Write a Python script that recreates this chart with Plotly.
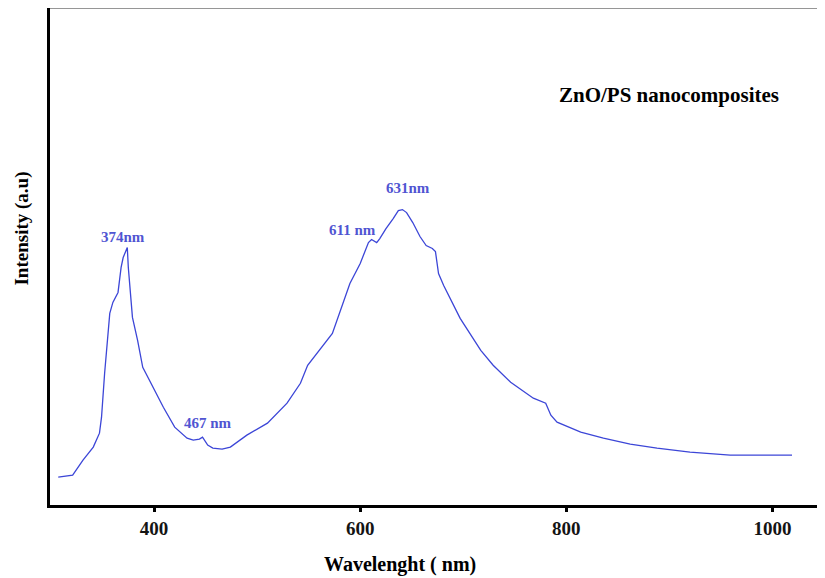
import plotly.graph_objects as go

# Photoluminescence spectrum
wavelength_nm = [307, 321, 331, 341, 347, 349, 352, 354, 357, 360, 365, 368, 370, 374,
                 375, 379, 384, 389, 399, 409, 420, 432, 438, 444, 447, 452, 457, 466,
                 474, 490, 510, 529, 542, 549, 573, 590, 600, 608, 611, 616, 619, 625,
                 632, 637, 641, 645, 651, 658, 664, 670, 673, 676, 681, 697, 717, 729,
                 746, 768, 780, 785, 791, 814, 836, 862, 888, 920, 959, 1019]
intensity_au = [28, 30, 45, 58, 72, 88, 132, 158, 192, 203, 213, 238, 248, 258,
                238, 188, 165, 138, 118, 98, 78, 67, 65, 66, 68, 60, 57, 56,
                58, 70, 82, 102, 122, 140, 172, 222, 242, 263, 266, 263, 267, 277,
                287, 295, 296, 293, 283, 269, 260, 257, 254, 232, 220, 187, 155, 140,
                123, 107, 102, 90, 83, 73, 67, 61, 57, 53, 50, 50]

peak_labels = ["374nm", "467 nm", "611 nm", "631nm"]
peak_label_x = [370, 452, 593, 646]
peak_label_y = [269, 82, 276, 318]

x_ticks = [400, 600, 800, 1000]

line_blue = "rgb(60,70,215)"
label_blue = "rgb(80,85,210)"
serif = "Liberation Serif"

fig = go.Figure()
fig.add_trace(go.Scatter(x=wavelength_nm, y=intensity_au, mode="lines",
                         line=dict(color=line_blue, width=1.3), showlegend=False,
                         hoverinfo="x+y"))

for t, x, y in zip(peak_labels, peak_label_x, peak_label_y):
    fig.add_annotation(x=x, y=y, text="<b>" + t + "</b>", showarrow=False,
                       font=dict(family=serif, size=15, color=label_blue),
                       xanchor="center", yanchor="middle")

fig.add_annotation(x=900, y=411, text="<b>ZnO/PS nanocomposites</b>", showarrow=False,
                   font=dict(family=serif, size=21, color="black"),
                   xanchor="center", yanchor="middle")

# axis titles
fig.add_annotation(xref="paper", yref="paper", x=(400 - 50) / 775, y=-60 / 498,
                   text="<b>Wavelenght ( nm)</b>", showarrow=False,
                   font=dict(family=serif, size=20, color="black"),
                   xanchor="center", yanchor="middle")
fig.add_annotation(xref="paper", yref="paper", x=-28 / 775, y=(505 - 228) / 498,
                   text="<b>Intensity (a.u)</b>", showarrow=False, textangle=-90,
                   font=dict(family=serif, size=19, color="black"),
                   xanchor="center", yanchor="middle")

# thin grey top border of the frame
fig.add_shape(type="line", xref="paper", yref="paper", x0=0, x1=1, y0=1, y1=1,
              line=dict(color="rgb(150,150,150)", width=2))

fig.update_layout(
    width=817, height=570,
    margin=dict(l=42, r=0, t=0, b=73),
    paper_bgcolor="white", plot_bgcolor="white",
    font=dict(family=serif, color="black"),
    xaxis=dict(range=[299, 1051], tickvals=x_ticks,
               ticktext=["<b>%d</b>" % v for v in x_ticks],
               showgrid=False, zeroline=False,
               showline=True, linecolor="black", linewidth=3,
               ticks="outside", ticklen=4, tickwidth=3, tickcolor="black",
               tickfont=dict(family=serif, size=19, color="rgb(20,20,20)")),
    yaxis=dict(range=[0, 498], showgrid=False, zeroline=False,
               showline=True, linecolor="black", linewidth=3,
               showticklabels=False, ticks=""),
)

fig.write_html("out.html")
